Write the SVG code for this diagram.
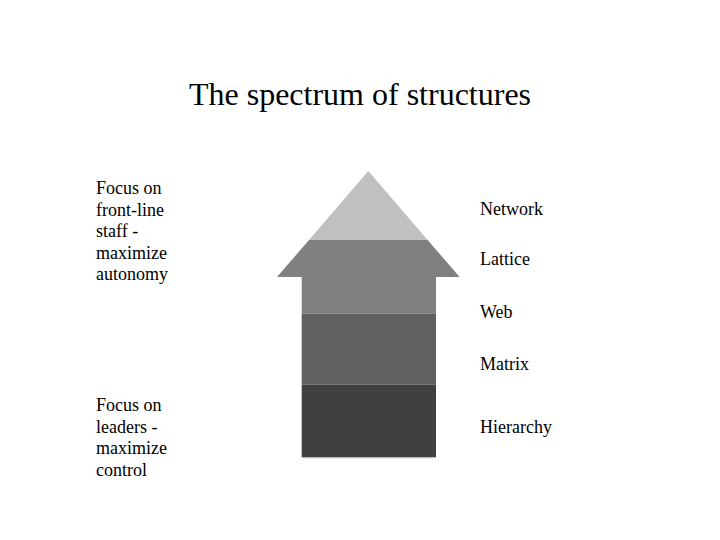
<svg xmlns="http://www.w3.org/2000/svg" width="720" height="540" viewBox="0 0 720 540">
<style>
text{font-family:"Liberation Serif","Times New Roman",serif;fill:#000}
.t{font-size:32px}
.l{font-size:18px}
</style>
<rect width="720" height="540" fill="#fff"/>
<g id="title"><text class="t" x="360" y="105" text-anchor="middle">The spectrum of structures</text></g>
<g id="arrow">
<polygon id="band-network" points="368.3,171 309,240 427.6,240" fill="#c0c0c0"/>
<polygon id="band-lattice" points="309,240 427.6,240 459.6,277 436,277 436,313.5 301.7,313.5 301.7,277 277,277" fill="#808080"/>
<rect id="band-web-matrix" x="301.7" y="313.5" width="134.3" height="71" fill="#606060"/>
<rect id="band-hierarchy" x="301.7" y="384.5" width="134.3" height="73" fill="#404040"/>
<line x1="301.7" y1="457.8" x2="436" y2="457.8" stroke="#c8c8c8" stroke-width="1"/>
</g>
<g id="labels-right">
<text class="l" x="480" y="215">Network</text>
<text class="l" x="480" y="265">Lattice</text>
<text class="l" x="480" y="318">Web</text>
<text class="l" x="480" y="370">Matrix</text>
<text class="l" x="480" y="433">Hierarchy</text>
</g>
<g id="label-top-left">
<text class="l" x="96" y="194">Focus on</text>
<text class="l" x="96" y="215.5">front-line</text>
<text class="l" x="96" y="237">staff -</text>
<text class="l" x="96" y="258.5">maximize</text>
<text class="l" x="96" y="280">autonomy</text>
</g>
<g id="label-bottom-left">
<text class="l" x="96" y="411">Focus on</text>
<text class="l" x="96" y="432.5">leaders -</text>
<text class="l" x="96" y="454">maximize</text>
<text class="l" x="96" y="475.5">control</text>
</g>
</svg>
